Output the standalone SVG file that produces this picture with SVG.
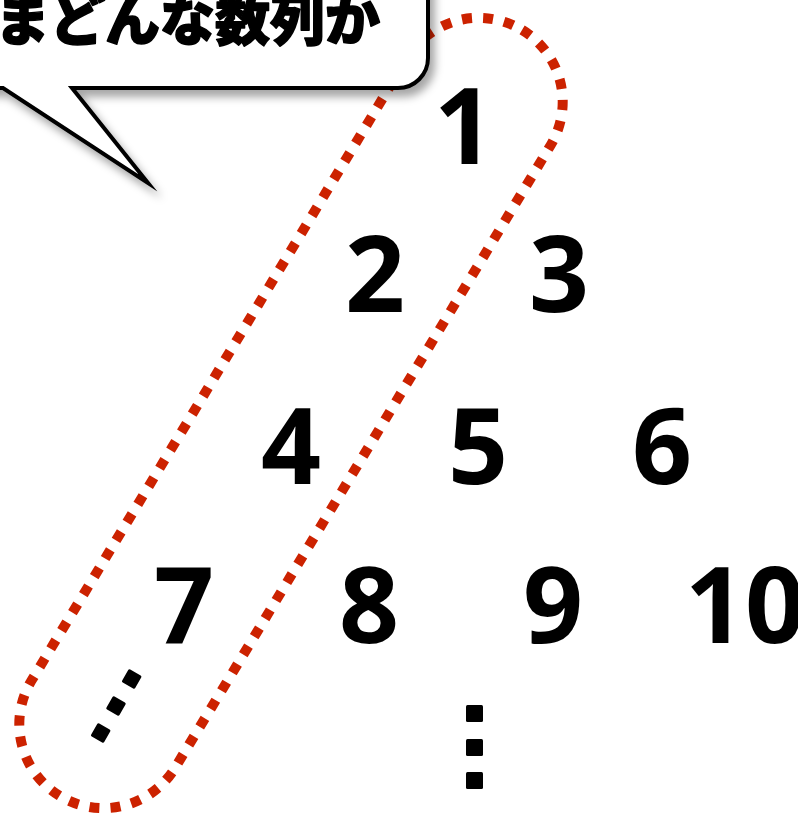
<svg xmlns="http://www.w3.org/2000/svg" width="798" height="814" viewBox="0 0 798 814">
<style>
.num{font-family:"Open Sans","Noto Sans","DejaVu Sans",sans-serif;font-weight:700;font-size:105px;fill:#000;text-anchor:middle}
.jp{font-family:"Noto Sans CJK JP","Noto Sans",sans-serif;font-weight:900;font-size:55px;fill:#000;stroke:#000;stroke-width:1.5;stroke-linejoin:round}
.dot{fill:#000}
</style>
<defs>
<filter id="sh" x="-20%" y="-20%" width="140%" height="160%">
<feDropShadow dx="5" dy="7" stdDeviation="4" flood-color="#000" flood-opacity="0.35"/>
</filter>
</defs>
<rect width="798" height="814" fill="#fff"/>
<g id="connectors">
<rect id="group-outline" x="207" y="-34.4" width="168" height="894.8" rx="84" ry="84" fill="none" stroke="#cc2200" stroke-width="10" stroke-dasharray="10 11.08" transform="rotate(31.1 291 413)"/>
</g>
<g id="bubble">
<path d="M -20 -60 H 398 A 30 30 0 0 1 428 -30 V 58 A 30 30 0 0 1 398 88 H 72 L 148 183 L 3 88 H -20 Z" fill="#fff" stroke="#000" stroke-width="4" stroke-linejoin="miter" stroke-miterlimit="10" filter="url(#sh)"/>
<text class="jp" x="-5" y="40">まどんな数列か</text>
</g>
<g id="n1"><text class="num" x="464" y="164">1</text></g>
<g id="n2"><text class="num" x="375" y="312">2</text></g>
<g id="n3"><text class="num" x="559" y="312">3</text></g>
<g id="n4"><text class="num" x="291" y="484">4</text></g>
<g id="n5"><text class="num" x="478" y="484">5</text></g>
<g id="n6"><text class="num" x="662" y="484">6</text></g>
<g id="n7"><text class="num" x="184" y="643">7</text></g>
<g id="n8"><text class="num" x="369" y="643">8</text></g>
<g id="n9"><text class="num" x="553" y="643">9</text></g>
<g id="n10"><text class="num" x="745" y="643">10</text></g>
<g id="vdots">
<rect class="dot" x="466" y="705" width="17" height="17" rx="1.5"/>
<rect class="dot" x="466" y="739" width="17" height="17" rx="1.5"/>
<rect class="dot" x="466" y="772" width="17" height="17" rx="1.5"/>
</g>
<g id="ddots">
<rect class="dot" x="-7.5" y="-7.5" width="15" height="15" rx="1.5" transform="translate(131.7 679) rotate(30)"/>
<rect class="dot" x="-7.5" y="-7.5" width="15" height="15" rx="1.5" transform="translate(116 706) rotate(30)"/>
<rect class="dot" x="-7.5" y="-7.5" width="15" height="15" rx="1.5" transform="translate(100.7 733) rotate(30)"/>
</g>
</svg>
